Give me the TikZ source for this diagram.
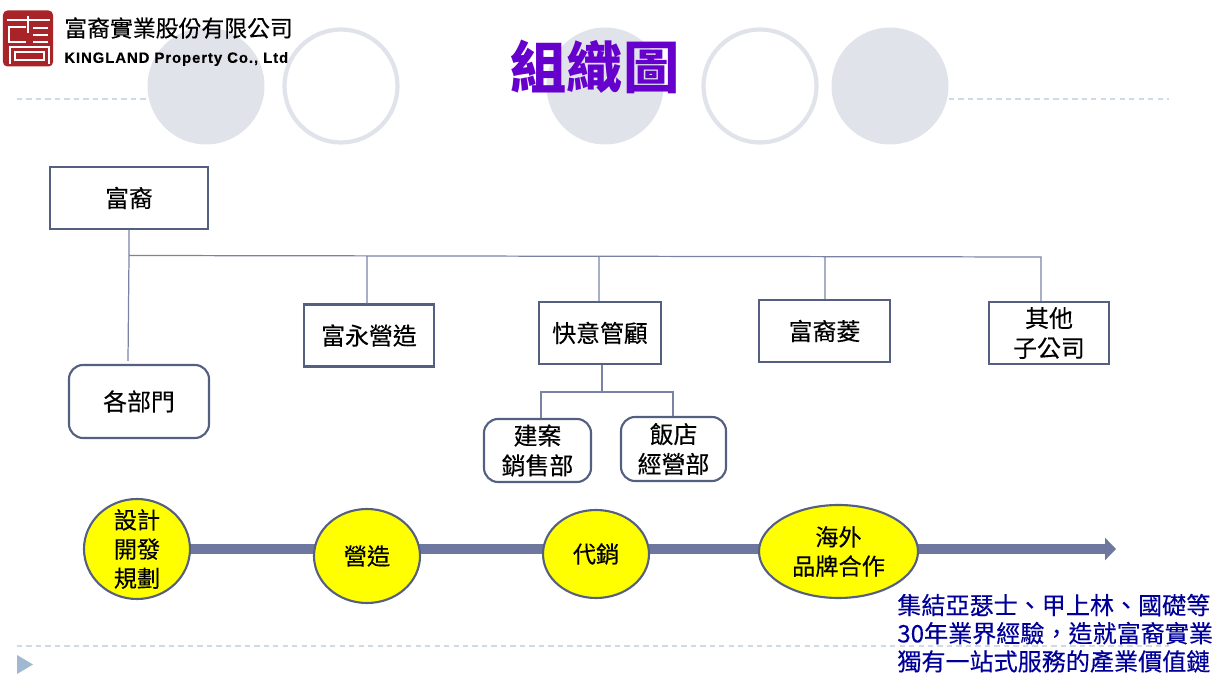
\documentclass[tikz,border=0pt]{standalone}
\usepackage{fontspec}
\setmainfont{Noto Sans CJK TC}
\newfontfamily\boxfont[FakeBold=0.25]{Noto Sans CJK TC}
\newfontfamily\latinbold[LetterSpace=6,FakeBold=0.2]{Liberation Sans Bold}
\usetikzlibrary{
    arrows.meta,
    shapes.geometric,
    positioning
}
\definecolor{deco}{HTML}{E1E3EB}
\definecolor{dotline}{HTML}{CFDAE5}
\definecolor{marker}{HTML}{A0B8D2}
\definecolor{boxline}{HTML}{555F80}
\definecolor{linkline}{HTML}{7A83A3}
\definecolor{shaft}{HTML}{6E789F}
\definecolor{stagefill}{RGB}{255,255,0}
\definecolor{titletext}{HTML}{6600CC}
\definecolor{notetext}{HTML}{000099}
\definecolor{logored}{HTML}{A82428}
\tikzset{
    unit/.style={draw=boxline, line width=1.2pt, minimum width=#1, minimum height=1.24cm, font=\boxfont\fontsize{13.6}{17}\selectfont, align=center, inner sep=0pt},
    roundunit/.style={unit=#1, rounded corners=8pt},
    stage/.style={ellipse, draw=boxline, line width=1.2pt, fill=stagefill, inner sep=0pt},
    stagetext/.style={font=\boxfont\fontsize{13.2}{16.6}\selectfont, align=center, inner sep=0pt},
    link/.style={draw=linkline, line width=0.7pt},
    ruler/.style={dotline, line width=1pt, dash pattern=on 3pt off 2.4pt},
    disc/.style={circle, fill=deco, minimum size=2.34cm, inner sep=0pt},
    ring/.style={circle, draw=deco, line width=2.4pt, fill=white, minimum size=2.26cm, inner sep=0pt}
}
\begin{document}
\begin{tikzpicture}
    \useasboundingbox (0, 0) rectangle (24.34, 13.54);
    \node[disc] (disca) at (4.12, 11.82) {};
    \node[ring] (ringa) at (6.82, 11.82) {};
    \node[disc] (discb) at (12.1, 11.82) {};
    \node[ring] (ringb) at (15.2, 11.82) {};
    \node[disc] (discc) at (17.8, 11.82) {};
    \coordinate (rulera) at (0.34, 11.56);
    \coordinate (rulerb) at (23.38, 11.56);
    \coordinate (rulerc) at (0.34, 0.62);
    \coordinate (rulerd) at (23.38, 0.62);
    \draw[ruler] (rulera) -- (disca.west |- rulera);
    \draw[ruler] (discc.east |- rulerb) -- (rulerb);
    \draw[ruler] (rulerc) -- (rulerd);
    \fill[marker] (0.34, 0.06) -- (0.34, 0.44) -- (0.66, 0.25) -- cycle;

    \node[fill=logored, minimum width=1cm, minimum height=1.12cm, rounded corners=2.5pt, inner sep=0pt] (logo) at (0.56, 12.77) {};
    \begin{scope}[shift={(0, 13.54)}, x=0.02cm, y=-0.02cm, white, line width=1pt]
        \draw (7, 20) -- (50, 20) (28, 16) -- (28, 33);
        \draw (26, 27) -- (9, 27) -- (9, 42) -- (26, 42);
        \draw (33, 28) -- (48, 28) (33, 35) -- (48, 35) (33, 42) -- (48, 42);
        \draw (10, 64) -- (10, 47) -- (49, 47) -- (49, 64);
        \draw (15, 52) -- (44, 52) -- (44, 60) -- (15, 60) -- cycle;
    \end{scope}
    \node[anchor=west, font=\boxfont\fontsize{13}{15}\selectfont, inner sep=0pt] (company) at (1.28, 12.98) {富裔實業股份有限公司};
    \node[anchor=west, font=\latinbold\fontsize{8.5}{10}\selectfont, inner sep=0pt] (english) at (1.28, 12.36) {KINGLAND Property Co., Ltd};
    \node[font=\bfseries\fontsize{32}{36}\selectfont, text=titletext, inner sep=0pt] (title) at (11.9, 12.2) {組織圖};

    \node[unit=3.16cm] (parent) at (2.58, 9.58) {富裔};
    \node[roundunit=2.8cm, minimum height=1.46cm] (depts) at (2.78, 5.51) {各部門};
    \node[unit=2.6cm] (build) at (7.38, 6.83) {富永營造};
    \node[unit=2.44cm] (manage) at (12, 6.88) {快意管顧};
    \node[unit=2.62cm] (ling) at (16.49, 6.92) {富裔菱};
    \node[unit=2.4cm] (others) at (20.98, 6.88) {其他\\子公司};
    \node[roundunit=2.14cm, minimum height=1.26cm] (sales) at (10.75, 4.53) {建案\\銷售部};
    \node[roundunit=2.1cm, minimum height=1.28cm] (hotel) at (13.47, 4.56) {飯店\\經營部};

    \coordinate (busa) at (2.58, 8.43);
    \coordinate (busb) at (20.82, 8.4);
    \coordinate (busc) at (7.34, 8.42);
    \coordinate (busd) at (11.98, 8.41);
    \coordinate (buse) at (16.5, 8.4);
    \coordinate (deptsend) at (2.56, 6.32);
    \coordinate (forka) at (12.04, 5.7);
    \coordinate (forkb) at (10.82, 5.7);
    \coordinate (forkc) at (13.46, 5.7);
    \draw[link]
    (parent.south) -- (busa) -- (deptsend)
    (busa) -- (busb) -- (busb |- others.north)
    (busc) -- (busc |- build.north)
    (busd) -- (busd |- manage.north)
    (buse) -- (buse |- ling.north);
    \draw[link]
    (forka |- manage.south) -- (forka)
    (forkb |- sales.north) -- (forkb) -- (forkc) -- (forkc |- hotel.north);

    \coordinate (arrowend) at (22.32, 2.56);
    \node[stage, minimum width=2.12cm, minimum height=2cm, label={[stagetext]center:設計\\開發\\規劃}] (plan) at (2.74, 2.56) {};
    \draw[line width=5.7pt, shaft, -{Triangle[length=0.22cm, width=0.44cm]}] (plan.east) -- (arrowend);
    \node[stage, minimum width=2.12cm, minimum height=1.88cm, label={[stagetext]center:營造}] (construct) at (7.34, 2.42) {};
    \node[stage, minimum width=2.12cm, minimum height=1.76cm, label={[stagetext]center:代銷}] (agency) at (11.92, 2.46) {};
    \node[stage, minimum width=3.18cm, minimum height=1.86cm, label={[stagetext]center:海外\\品牌合作}] (brand) at (16.77, 2.51) {};

    \node[anchor=north west, align=left, text=notetext, font=\boxfont\fontsize{13.7}{16}\selectfont, inner sep=0pt] (note) at (17.94, 1.67) {集結亞瑟士、甲上林、國礎等\\30年業界經驗，造就富裔實業\\獨有一站式服務的產業價值鏈};
\end{tikzpicture}
\end{document}
